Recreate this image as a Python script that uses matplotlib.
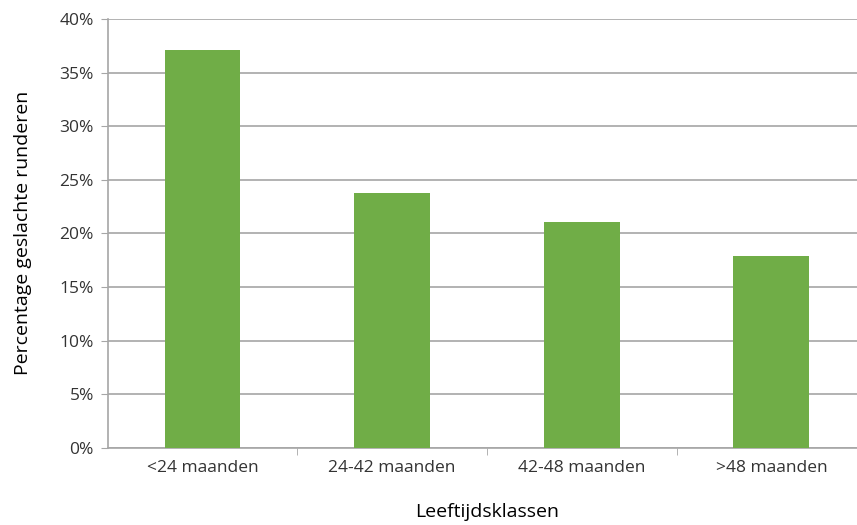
import matplotlib.pyplot as plt
from matplotlib.ticker import PercentFormatter

categories = ['<24 maanden', '24-42 maanden', '42-48 maanden', '>48 maanden']
percentages = [37.15, 23.75, 21.1, 17.9]

plt.rcParams['font.family'] = ['Open Sans', 'DejaVu Sans']

fig = plt.figure(figsize=(8.57, 5.25), dpi=100)
ax = fig.add_axes([0.1257, 0.1472, 0.885, 0.8166])

x = range(len(categories))
ax.bar(x, percentages, width=0.4, color='#70AD47', zorder=3)

ax.set_xlim(-0.5, 3.5)
ax.set_ylim(0, 40)
ax.set_yticks(range(0, 41, 5))
ax.yaxis.set_major_formatter(PercentFormatter(decimals=0))
ax.grid(axis='y', color='#A6A6A6', linewidth=1.2, zorder=0)

ax.set_xticks(list(x))
ax.set_xticklabels(categories)
# category separators on the x axis
ax.set_xticks([0.5, 1.5, 2.5], minor=True)
ax.tick_params(axis='x', which='major', length=0, pad=9, labelsize=12.5, colors='#333333')
ax.tick_params(axis='x', which='minor', length=5, color='#A6A6A6')
ax.tick_params(axis='y', length=5, color='#A6A6A6', pad=5, labelsize=12.5, colors='#333333')

for side in ['top', 'right']:
    ax.spines[side].set_visible(False)
for side in ['left', 'bottom']:
    ax.spines[side].set_color('#A6A6A6')
    ax.spines[side].set_linewidth(1.2)

ax.set_ylabel('Percentage geslachte runderen', fontsize=14, labelpad=20, color='black', weight='medium')
ax.set_xlabel('Leeftijdsklassen', fontsize=14, labelpad=19, color='black', weight='medium')

fig.savefig('out.png', dpi=100)
